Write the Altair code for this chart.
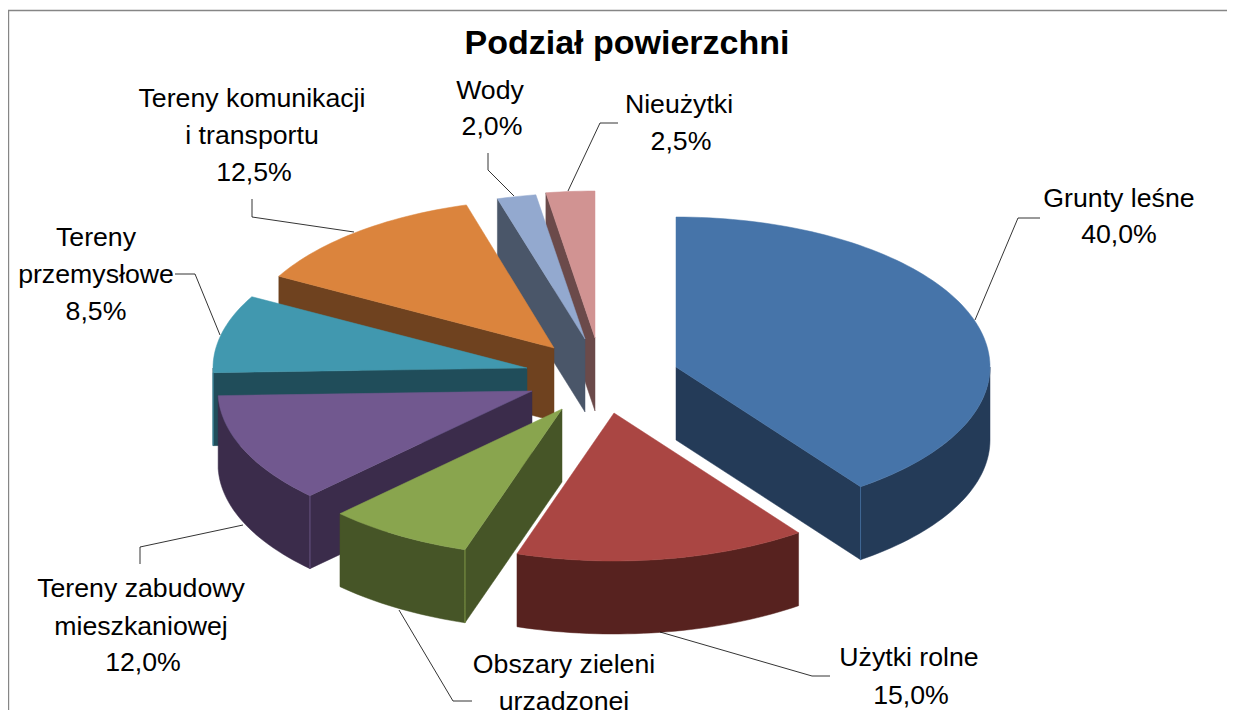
import math
import altair as alt
import pandas as pd

# ---- chart values
names = ["Grunty leśne", "Użytki rolne", "Obszary zieleni urządzonej",
         "Tereny zabudowy mieszkaniowej", "Tereny przemysłowe",
         "Tereny komunikacji i transportu", "Wody", "Nieużytki"]
shares = [40.0, 15.0, 7.5, 12.0, 8.5, 12.5, 2.0, 2.5]
top_colors = ["#4674A9", "#AA4643", "#89A54E", "#71588F", "#4198AF", "#DB843D", "#93A9CF", "#D19392"]
wall_colors = ["#243B58", "#57221F", "#465527", "#3B2C4B", "#204D5A", "#6F421F", "#4A5669", "#6B4A4A"]

# ---- layout of the exploded 3-D pie (page pixels)
apex_x = [676, 614, 562, 532, 527, 554, 585, 595]
apex_y = [367, 413, 409, 391, 368, 348, 339, 338]
RX, DEPTH = 314, 73
ry_back = [150, 148, 148, 148, 148, 149, 146, 147]
RY_FRONT = 148
draw_order = [7, 6, 5, 4, 3, 0, 1, 2]

title_text = "Podział powierzchni"
label_lines = [
    ("Grunty leśne", 1119, 199), ("40,0%", 1119, 235),
    ("Użytki rolne", 909, 658), ("15,0%", 911, 696),
    ("Obszary zieleni", 564, 665), ("urządzonej", 564, 702),
    ("Tereny zabudowy", 141, 589), ("mieszkaniowej", 141, 627), ("12,0%", 143, 663),
    ("Tereny", 96, 238), ("przemysłowe", 96, 275), ("8,5%", 96, 312),
    ("Tereny komunikacji", 252, 99), ("i transportu", 252, 136), ("12,5%", 254, 173),
    ("Wody", 490, 91), ("2,0%", 492, 127),
    ("Nieużytki", 679, 105), ("2,5%", 681, 142),
]
leaders = [
    [(975, 320), (1018, 218), (1040, 218)],
    [(660, 632), (812, 676), (830, 676)],
    [(399, 610), (453, 701), (472, 701)],
    [(243, 525), (140, 547), (140, 564)],
    [(220, 335), (195, 274), (175, 274)],
    [(354, 232), (252, 217), (252, 199)],
    [(514, 196), (488, 170), (488, 153)],
    [(568, 191), (600, 123), (618, 123)],
]

# ---- slice geometry derived from the shares
starts = []
acc = 0.0
for s in shares:
    starts.append(acc)
    acc += s * 3.6


def rim(i, deg, dy=0.0):
    r = math.radians(deg)
    c = math.cos(r)
    ry = ry_back[i] if c > 0 else RY_FRONT
    return apex_x[i] + RX * math.sin(r), apex_y[i] - ry * c + dy


def arc(i, a0, a1, dy=0.0):
    n = max(2, int(abs(a1 - a0) / 1.5) + 1)
    return [rim(i, a0 + (a1 - a0) * k / n, dy) for k in range(n + 1)]


rows = []
pid = 0


def add(points, fill):
    global pid
    pid += 1
    for k, (x, y) in enumerate(points):
        rows.append({"pid": pid, "k": k, "x": x, "y": y, "fill": fill})


for i in draw_order:
    a0, a1 = starts[i], starts[i] + shares[i] * 3.6
    wall = wall_colors[i]
    lo, hi = max(a0, 90), min(a1, 270)
    seams = []
    # radial walls
    for edge, show in ((a0, a0 >= 180), (a1, a1 <= 180)):
        if show:
            ax, ay = apex_x[i], apex_y[i]
            rx, ry = rim(i, edge)
            add([(ax, ay), (rx, ry), (rx, ry + DEPTH), (ax, ay + DEPTH)], wall)
            if lo < hi:
                seams.append([(rx, ry), (rx, ry + DEPTH)])
    # outer curved wall
    if lo < hi:
        add(arc(i, lo, hi) + arc(i, hi, lo, DEPTH), wall)
    # thin light seam between the radial and the curved wall
    for seam in seams:
        add(seam, top_colors[i])
    # top face
    add([(apex_x[i], apex_y[i])] + arc(i, a0, a1), top_colors[i])

polys = pd.DataFrame(rows)

leader_df = pd.DataFrame([
    {"lid": n, "k": k, "x": x, "y": y}
    for n, pts in enumerate(leaders) for k, (x, y) in enumerate(pts)
])
labels_df = pd.DataFrame(label_lines, columns=["t", "x", "y"])
title_df = pd.DataFrame([{"t": title_text, "x": 627, "y": 44}])
border_df = pd.DataFrame([{"k": 0, "x": 8.5, "y": 710}, {"k": 1, "x": 8.5, "y": 10.5}, {"k": 2, "x": 1227, "y": 10.5}])

X = alt.X("x:Q", scale=alt.Scale(domain=[8, 1227], nice=False, zero=False), axis=None)
Y = alt.Y("y:Q", scale=alt.Scale(domain=[710, 8], nice=False, zero=False), axis=None)

border = alt.Chart(border_df).mark_line(color="#868686", strokeWidth=1.4).encode(x=X, y=Y, order="k:Q")
faces = alt.Chart(polys).mark_line(interpolate="linear-closed", strokeWidth=0.5).encode(
    x=X, y=Y, order="k:Q", detail="pid:N",
    fill=alt.Fill("fill:N", scale=None),
    stroke=alt.Stroke("fill:N", scale=None),
)
lead = alt.Chart(leader_df).mark_line(color="#000000", strokeWidth=0.8).encode(x=X, y=Y, order="k:Q", detail="lid:N")
texts = alt.Chart(labels_df).mark_text(font="Liberation Sans", fontSize=26.7, color="#000000",
                                       align="center", baseline="middle", clip=True).encode(x=X, y=Y, text="t:N")
title = alt.Chart(title_df).mark_text(font="Liberation Sans", fontSize=34, fontWeight="bold", color="#000000",
                                      align="center", baseline="middle").encode(x=X, y=Y, text="t:N")

chart = alt.layer(border, faces, lead, texts, title).properties(
    width=1219, height=702, padding=0, autosize=alt.AutoSizeParams(type="none"),
    background="#ffffff",
).configure_view(stroke=None)

chart.save("out.html", embed_options={"renderer": "svg", "actions": False})
